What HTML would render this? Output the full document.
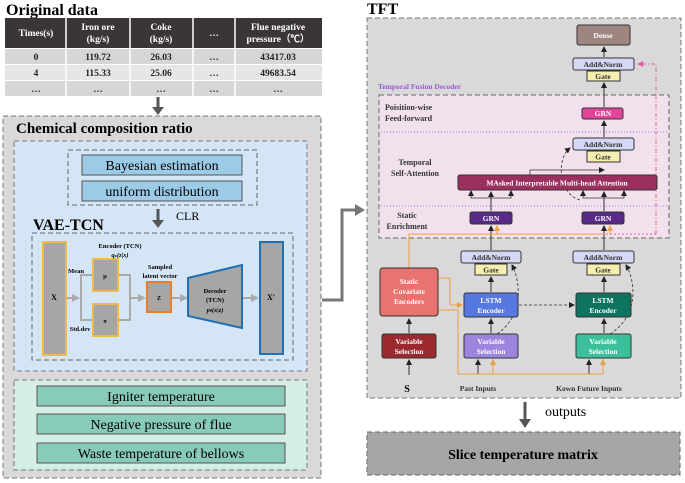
<!DOCTYPE html>
<html><head><meta charset="utf-8"><style>
html,body{margin:0;padding:0;background:#fff}
svg{display:block}
text{font-family:"Liberation Serif",serif}
.b{font-weight:bold}
</style></head><body>
<svg width="685" height="483" viewBox="0 0 685 483" xmlns="http://www.w3.org/2000/svg">
<defs>
<marker id="ak" markerWidth="6" markerHeight="6" refX="5" refY="3" orient="auto" markerUnits="userSpaceOnUse"><path d="M0,0 L6,3 L0,6 z" fill="#222"/></marker>
<marker id="ao" markerWidth="6" markerHeight="6" refX="5" refY="3" orient="auto" markerUnits="userSpaceOnUse"><path d="M0,0 L6,3 L0,6 z" fill="#f0a040"/></marker>
<marker id="ap" markerWidth="6" markerHeight="6" refX="5" refY="3" orient="auto" markerUnits="userSpaceOnUse"><path d="M0,0 L6,3 L0,6 z" fill="#e060a0"/></marker>
<marker id="ag" markerWidth="8" markerHeight="8" refX="6" refY="4" orient="auto" markerUnits="userSpaceOnUse"><path d="M0,0 L8,4 L0,8 z" fill="#aaa"/></marker>
</defs>

<text x="6" y="15" class="b" font-size="16">Original data</text>
<rect x="5" y="18" width="317" height="30" fill="#3a3636"/>
<rect x="5" y="49" width="317" height="15" fill="#d6d6d6"/>
<rect x="5" y="65" width="317" height="15" fill="#e6e6e6"/>
<rect x="5" y="81" width="317" height="15" fill="#d6d6d6"/>
<g stroke="#fff" stroke-width="1.5"><line x1="66" y1="18" x2="66" y2="96"/><line x1="130" y1="18" x2="130" y2="96"/><line x1="193" y1="18" x2="193" y2="96"/><line x1="235" y1="18" x2="235" y2="96"/></g>
<g font-size="9.5" class="b" fill="#fff" text-anchor="middle">
<text x="36" y="36">Times(s)</text>
<text x="98" y="30">Iron ore</text><text x="98" y="42">(kg/s)</text>
<text x="161" y="30">Coke</text><text x="161" y="42">(kg/s)</text>
<text x="214" y="36">…</text>
<text x="278" y="30">Flue negative</text><text x="278" y="42">pressure（℃）</text>
</g>
<g font-size="9.5" class="b" fill="#222" text-anchor="middle">
<text x="36" y="60">0</text><text x="98" y="60">119.72</text><text x="161" y="60">26.03</text><text x="214" y="60">…</text><text x="278" y="60">43417.03</text>
<text x="36" y="76">4</text><text x="98" y="76">115.33</text><text x="161" y="76">25.06</text><text x="214" y="76">…</text><text x="278" y="76">49683.54</text>
<text x="36" y="92">…</text><text x="98" y="92">…</text><text x="161" y="92">…</text><text x="214" y="92">…</text><text x="278" y="92">…</text>
</g>
<line x1="158" y1="97" x2="158" y2="108" stroke="#555" stroke-width="3"/><path d="M152,107 L164,107 L158,115 z" fill="#555"/>

<rect x="3" y="116" width="318" height="362" fill="#d9d9d9" stroke="#777" stroke-dasharray="5,3"/>
<text x="16" y="133" class="b" font-size="15">Chemical composition ratio</text>
<rect x="14" y="141" width="293" height="230" fill="#d4e6f5" stroke="#777" stroke-dasharray="5,3"/>
<rect x="68" y="150" width="189" height="55" fill="none" stroke="#666" stroke-dasharray="5,3"/>
<rect x="82" y="155" width="160" height="20" fill="#9ccbe8" stroke="#555"/>
<rect x="82" y="181" width="160" height="20" fill="#9ccbe8" stroke="#555"/>
<text x="162" y="170" font-size="14" text-anchor="middle">Bayesian estimation</text>
<text x="162" y="196" font-size="14" text-anchor="middle">uniform distribution</text>
<line x1="158" y1="209" x2="158" y2="221" stroke="#555" stroke-width="3"/><path d="M152,220 L164,220 L158,228 z" fill="#555"/>
<text x="176" y="220" font-size="12">CLR</text>
<text x="33" y="230" class="b" font-size="16">VAE-TCN</text>
<rect x="32" y="233" width="261" height="127" fill="none" stroke="#666" stroke-dasharray="5,3"/>
<rect x="43" y="242" width="23" height="113" fill="#a6a6a6" stroke="#f2b84b" stroke-width="2"/>
<text x="54" y="300" font-size="8" class="b" text-anchor="middle">X</text>
<g stroke="#aaa" stroke-width="2" fill="none"><line x1="67" y1="298" x2="78" y2="298" marker-end="url(#ag)"/>
<path d="M93,275 H81 V320 H93"/><path d="M119,275 H130 V320 H119"/><line x1="130" y1="298" x2="144" y2="298" marker-end="url(#ag)"/>
<line x1="172" y1="298" x2="186" y2="298" marker-end="url(#ag)"/><line x1="243" y1="298" x2="257" y2="298" marker-end="url(#ag)"/></g>
<rect x="93" y="259" width="25" height="32" fill="#a6a6a6" stroke="#f2b84b" stroke-width="2"/>
<rect x="93" y="304" width="25" height="32" fill="#a6a6a6" stroke="#f2b84b" stroke-width="2"/>
<text x="105" y="278" font-size="6" class="b" text-anchor="middle">μ</text>
<text x="105" y="323" font-size="6" class="b" text-anchor="middle">σ</text>
<rect x="147" y="282" width="24" height="30" fill="#a6a6a6" stroke="#e87e2a" stroke-width="2"/>
<text x="159" y="300" font-size="6" class="b" text-anchor="middle">Z</text>
<path d="M188,278 L242,265 L242,328 L188,316 z" fill="#a6a6a6" stroke="#1f6fb5" stroke-width="2"/>
<g font-size="6.5" class="b" text-anchor="middle"><text x="215" y="293">Decoder</text><text x="215" y="302">(TCN)</text><text x="215" y="312" font-style="italic">p<tspan font-size="4">θ</tspan>(x|z)</text></g>
<rect x="260" y="242" width="23" height="112" fill="#a6a6a6" stroke="#1f6fb5" stroke-width="2"/>
<text x="271" y="300" font-size="8" class="b" text-anchor="middle">X'</text>
<g font-size="6.5" class="b" text-anchor="middle"><text x="120" y="248">Encoder (TCN)</text><text x="120" y="257" font-style="italic">q<tspan font-size="4">φ</tspan>(z|x)</text>
<text x="76" y="273">Mean</text><text x="80" y="331">Std.dev</text><text x="160" y="269">Sampled</text><text x="160" y="278">latent vector</text></g>

<rect x="14" y="380" width="293" height="90" fill="#d5efe8" stroke="#777" stroke-dasharray="5,3"/>
<rect x="37" y="386" width="248" height="20" fill="#88cbb8" stroke="#555"/>
<rect x="37" y="414" width="248" height="20" fill="#88cbb8" stroke="#555"/>
<rect x="37" y="443" width="248" height="20" fill="#88cbb8" stroke="#555"/>
<g font-size="14" text-anchor="middle"><text x="161" y="401">Igniter temperature</text><text x="161" y="429">Negative pressure of flue</text><text x="161" y="458">Waste temperature of bellows</text></g>

<path d="M322,300 H342 V210 H356" fill="none" stroke="#777" stroke-width="3"/><path d="M355,204 L365,210 L355,216 z" fill="#777"/>

<text x="367" y="14" class="b" font-size="16">TFT</text>
<rect x="367" y="18" width="314" height="380" fill="#d9d9d9" stroke="#777" stroke-dasharray="5,3"/>
<rect x="379" y="95" width="290" height="143" fill="#f2e1ec" stroke="#666" stroke-dasharray="5,3"/>
<line x1="381" y1="132" x2="667" y2="132" stroke="#8a8ad0" stroke-dasharray="1,2"/>
<line x1="381" y1="206" x2="667" y2="206" stroke="#8a8ad0" stroke-dasharray="1,2"/>
<text x="378" y="89" font-size="7.5" class="b" fill="#9a5ad8">Temporal Fusion Decoder</text>
<g font-size="8" class="b" fill="#333"><text x="385" y="110">Poisition-wise</text><text x="385" y="121">Feed-forward</text>
<text x="415" y="165" text-anchor="middle">Temporal</text><text x="415" y="176" text-anchor="middle">Self-Attention</text>
<text x="407" y="218" text-anchor="middle">Static</text><text x="407" y="229" text-anchor="middle">Enrichment</text></g>

<path d="M656,234 V64 H638" fill="none" stroke="#e060a0" stroke-dasharray="4,2,1,2" marker-end="url(#ap)"/>
<path d="M656,234 H605" fill="none" stroke="#e060a0" stroke-dasharray="2,2"/>

<g stroke="#333" stroke-width="1" fill="none" marker-end="url(#ak)">
<line x1="604" y1="57" x2="604" y2="47"/>
<line x1="604" y1="107" x2="604" y2="83"/>
<line x1="604" y1="137" x2="604" y2="121"/>
<line x1="491" y1="211" x2="491" y2="192"/>
<line x1="604" y1="211" x2="604" y2="192"/>
<line x1="491" y1="250" x2="491" y2="226"/>
<line x1="604" y1="250" x2="604" y2="226"/>
<line x1="491" y1="292" x2="491" y2="277"/>
<line x1="604" y1="292" x2="604" y2="277"/>
<line x1="491" y1="333" x2="491" y2="319"/>
<line x1="604" y1="333" x2="604" y2="319"/>
<line x1="409" y1="333" x2="409" y2="319"/>
<line x1="409" y1="375" x2="409" y2="360"/>
<line x1="478" y1="374" x2="478" y2="360"/>
<line x1="589" y1="374" x2="589" y2="360"/>
</g>
<g stroke="#333" stroke-width="0.8" fill="none" marker-end="url(#ak)">
<path d="M491,198 H471 V191"/><path d="M491,198 H511 V191"/>
<path d="M604,198 H583 V191"/><path d="M604,198 H624 V191"/>
<path d="M530,175 V170 H604"/>
</g>
<g stroke="#333" stroke-width="0.8" fill="none" stroke-dasharray="3,2" marker-end="url(#ak)">
<path d="M580,200 C560,195 555,160 570,148"/>
<path d="M497,334 C525,315 520,280 512,265"/>
<path d="M610,334 C640,315 635,280 626,265"/>
<line x1="519" y1="305" x2="574" y2="305"/>
</g>

<g stroke="#f0a040" stroke-width="1" fill="none">
<path d="M409,268 V234 H605"/>
<path d="M438,278 H450 V305 H462" marker-end="url(#ao)"/>
<path d="M438,310 H458 V374 H603"/>
</g>
<g stroke="#f0a040" stroke-width="1" fill="none" marker-end="url(#ao)">
<line x1="497" y1="234" x2="497" y2="226"/><line x1="610" y1="234" x2="610" y2="226"/>
<line x1="493" y1="374" x2="493" y2="360"/><line x1="603" y1="374" x2="603" y2="360"/>
</g>

<g stroke="#333" stroke-width="1">
<rect x="577" y="25" width="53" height="20" rx="2" fill="#9e8580"/>
<rect x="573" y="58" width="61" height="12" rx="2" fill="#d4d8f5"/><rect x="587" y="71" width="33" height="10" fill="#f5eeb0"/>
<rect x="582" y="108" width="41" height="11" rx="2" fill="#e0459a"/>
<rect x="573" y="138" width="61" height="12" rx="2" fill="#d4d8f5"/><rect x="587" y="151" width="33" height="11" fill="#f5eeb0"/>
<rect x="458" y="175" width="199" height="15" rx="2" fill="#9b2f5e"/>
<rect x="470" y="212" width="42" height="12" rx="2" fill="#5a2a8a"/>
<rect x="582" y="212" width="42" height="12" rx="2" fill="#5a2a8a"/>
<rect x="461" y="251" width="60" height="12" rx="2" fill="#d4d8f5"/><rect x="475" y="264" width="32" height="11" fill="#f5eeb0"/>
<rect x="573" y="251" width="61" height="12" rx="2" fill="#d4d8f5"/><rect x="587" y="264" width="33" height="11" fill="#f5eeb0"/>
<rect x="380" y="268" width="58" height="48" rx="3" fill="#e8736f"/>
<rect x="464" y="293" width="54" height="24" rx="2" fill="#5778e0"/>
<rect x="576" y="293" width="55" height="24" rx="2" fill="#0e7460"/>
<rect x="382" y="334" width="54" height="24" rx="2" fill="#9b2a30"/>
<rect x="464" y="334" width="54" height="24" rx="2" fill="#9d84dc"/>
<rect x="576" y="334" width="55" height="24" rx="2" fill="#3cc09c"/>
</g>
<g font-size="7.5" class="b" text-anchor="middle" fill="#fff">
<text x="603" y="38">Dense</text>
<text x="603" y="116">GRN</text>
<text x="557" y="185.5">MAsked Interpretable Multi-head Attention</text>
<text x="491" y="221">GRN</text><text x="603" y="221">GRN</text>
<text x="409" y="284">Static</text><text x="409" y="294">Covariate</text><text x="409" y="304">Encoders</text>
<text x="491" y="303">LSTM</text><text x="491" y="313">Encoder</text>
<text x="603" y="303">LSTM</text><text x="603" y="313">Encoder</text>
<text x="409" y="344">Variable</text><text x="409" y="354">Selection</text>
<text x="491" y="344">Variable</text><text x="491" y="354">Selection</text>
<text x="603" y="344">Variable</text><text x="603" y="354">Selection</text>
</g>
<g font-size="7.5" class="b" text-anchor="middle" fill="#333">
<text x="603" y="67">Add&amp;Norm</text><text x="603" y="79">Gate</text>
<text x="603" y="147">Add&amp;Norm</text><text x="603" y="159.5">Gate</text>
<text x="491" y="260">Add&amp;Norm</text><text x="491" y="272.5">Gate</text>
<text x="603" y="260">Add&amp;Norm</text><text x="603" y="272.5">Gate</text>
<text x="478" y="391">Past Inputs</text><text x="589" y="391">Kown Future Inputs</text>
</g>
<text x="407" y="392" font-size="10" class="b" text-anchor="middle">S</text>

<line x1="525" y1="402" x2="525" y2="420" stroke="#555" stroke-width="3"/><path d="M519,419 L531,419 L525,428 z" fill="#555"/>
<text x="545" y="416" font-size="14">outputs</text>
<rect x="367" y="432" width="313" height="43" fill="#a6a6a6" stroke="#666" stroke-dasharray="5,3"/>
<text x="523" y="459" font-size="14" class="b" text-anchor="middle">Slice temperature matrix</text>
</svg>
</body></html>
